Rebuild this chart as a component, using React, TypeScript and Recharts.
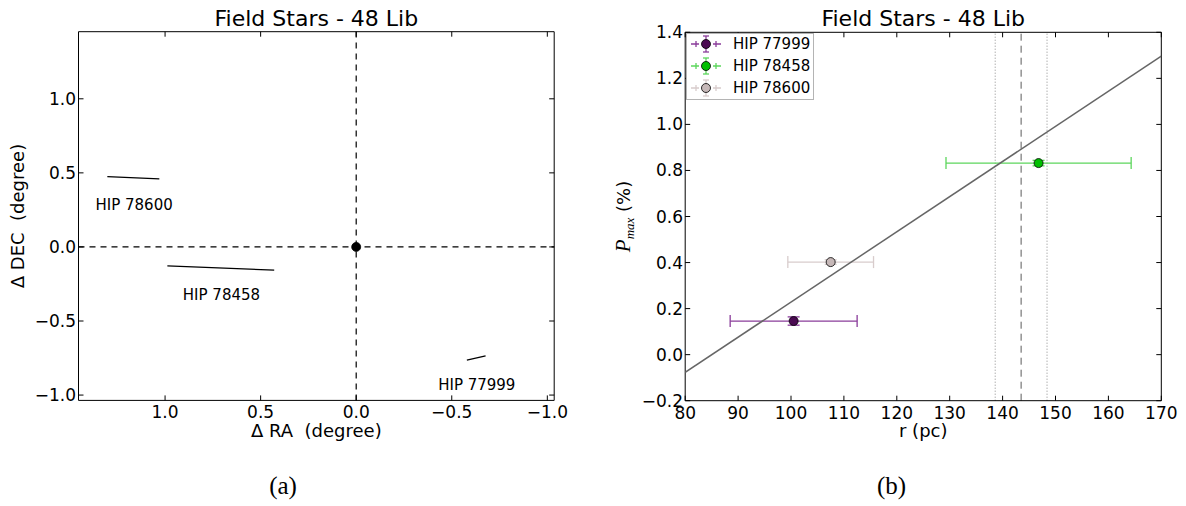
import React from "react";
import { ScatterChart, Scatter, XAxis, YAxis, ReferenceLine, ErrorBar } from "recharts";

// (a) positions relative to 48 Lib, polarization vectors
const vecNames = ["HIP 78600", "HIP 78458", "HIP 77999"];
const vecRaStart = [1.302, 0.988, -0.579];
const vecRaEnd = [1.03, 0.429, -0.677];
const vecDecStart = [0.475, -0.128, -0.764];
const vecDecEnd = [0.459, -0.157, -0.736];
const nameRa = [1.162, 0.705, -0.631];
const nameDec = [0.284, -0.324, -0.932];
const raTicks = [1.0, 0.5, 0.0, -0.5, -1.0];
const decTicks = [-1.0, -0.5, 0.0, 0.5, 1.0];
const raDomain = [-1.036, 1.453];
const decDomain = [-1.036, 1.453];

// (b) Pmax vs distance
const starNames = ["HIP 77999", "HIP 78458", "HIP 78600"];
const starDist = [100.5, 146.8, 107.5];
const starDistErr = [12.0, 17.5, 8.1];
const starPmax = [0.146, 0.832, 0.402];
const starPmaxErr = [0.018, 0.012, 0.01];
const markerColors = ["#4b0a52", "#00c000", "#c6b8b8"];
const errColors = ["#8a3c9a", "#5cd65c", "#d8cccc"];
const fitDist = [80, 170];
const fitPmax = [-0.077, 1.297];
const clusterDist = 143.5;
const clusterDistErr = 4.9;
const distTicks = [80, 90, 100, 110, 120, 130, 140, 150, 160, 170];
const pmaxTicks = [-0.2, 0.0, 0.2, 0.4, 0.6, 0.8, 1.0, 1.2, 1.4];

const FONT = "DejaVu Sans";
const fmt = (v: number) => {
  const s = Math.abs(v).toFixed(1);
  return v < -1e-9 ? "\u2212" + s : s;
};
const blank = () => "";
const noShape = () => <g />;
const tickStyle = { fill: "#000", fontSize: 17, fontFamily: FONT };

const vectors = vecNames.map((n, i) => [
  { x: vecRaStart[i], y: vecDecStart[i] },
  { x: vecRaEnd[i], y: vecDecEnd[i] },
]);
const nameLabels = vecNames.map((n, i) => ({ x: nameRa[i], y: nameDec[i], name: n }));
const fitLine = fitDist.map((d, i) => ({ x: d, y: fitPmax[i] }));
const stars = starNames.map((n, i) => ({
  x: starDist[i],
  y: starPmax[i],
  xe: starDistErr[i],
  ye: starPmaxErr[i],
  name: n,
}));

// top axis is 1px tall, so its viewBox bottom is the plot top
const titleLabel = (props: any) => {
  const { x, y, width, height } = props.viewBox;
  return (
    <text x={x + width / 2} y={y + height - 6} textAnchor="middle" fontSize={22} fontFamily={FONT} fill="#000">
      Field Stars - 48 Lib
    </text>
  );
};

const xTitle = (text: string) => (props: any) => {
  const { x, y, width } = props.viewBox;
  return (
    <text x={x + width / 2} y={y + 36.6} textAnchor="middle" fontSize={18} fontFamily={FONT} fill="#000" style={{ whiteSpace: "pre" }}>
      {text}
    </text>
  );
};

const decTitle = (props: any) => {
  const { x, y, height } = props.viewBox;
  const tx = x + 15.5;
  const ty = y + height / 2;
  return (
    <text x={tx} y={ty} transform={`rotate(-90, ${tx}, ${ty})`} textAnchor="middle" fontSize={18} fontFamily={FONT} fill="#000" style={{ whiteSpace: "pre" }}>
      {"\u0394 DEC  (degree)"}
    </text>
  );
};

const pmaxTitle = (props: any) => {
  const { x, y, height } = props.viewBox;
  const tx = x + 14.8;
  const ty = y + height / 2;
  return (
    <text x={tx} y={ty} transform={`rotate(-90, ${tx}, ${ty})`} textAnchor="middle" fontSize={18} fontFamily={FONT} fill="#000">
      <tspan fontFamily="Liberation Serif" fontStyle="italic" fontSize={21}>P</tspan>
      <tspan fontFamily="Liberation Serif" fontStyle="italic" fontSize={13} dy={4}>max</tspan>
      <tspan dy={-4}>{" (%)"}</tspan>
    </text>
  );
};

const nameShape = (p: any) => (
  <text x={p.cx} y={p.cy} dy="0.35em" textAnchor="middle" fontSize={15} fontFamily={FONT} fill="#000">
    {p.payload.name}
  </text>
);

const starShape = (color: string) => (p: any) => (
  <circle cx={p.cx} cy={p.cy} r={4.5} fill={color} stroke="#000" strokeWidth={0.8} />
);

const PositionChart = () => (
  <ScatterChart width={600} height={506} margin={{ top: 30.7, right: 44.8, bottom: 65.6, left: 8.5 }}>
    <XAxis
      dataKey="x"
      type="number"
      domain={raDomain}
      reversed
      allowDataOverflow
      ticks={raTicks}
      interval={0}
      tickFormatter={fmt}
      tickSize={-5}
      tickMargin={11}
      height={40}
      stroke="#000"
      tick={tickStyle}
      label={{ content: xTitle("\u0394 RA  (degree)") }}
    />
    <XAxis
      xAxisId="top"
      orientation="top"
      dataKey="x"
      type="number"
      domain={raDomain}
      reversed
      allowDataOverflow
      ticks={raTicks}
      interval={0}
      tickFormatter={blank}
      tickSize={-5}
      height={1}
      stroke="#000"
      label={{ content: titleLabel }}
    />
    <YAxis
      dataKey="y"
      type="number"
      domain={decDomain}
      allowDataOverflow
      ticks={decTicks}
      interval={0}
      tickFormatter={fmt}
      tickSize={-5}
      tickMargin={7.5}
      width={70}
      stroke="#000"
      tick={tickStyle}
      label={{ content: decTitle }}
    />
    <YAxis
      yAxisId="right"
      orientation="right"
      dataKey="y"
      type="number"
      domain={decDomain}
      allowDataOverflow
      ticks={decTicks}
      interval={0}
      tickFormatter={blank}
      tickSize={-5}
      width={1}
      stroke="#000"
    />
    <ReferenceLine x={0} stroke="#000" strokeWidth={1.2} strokeDasharray="6 5" />
    <ReferenceLine y={0} stroke="#000" strokeWidth={1.2} strokeDasharray="6 5" />
    {vectors.map((v, i) => (
      <Scatter
        key={vecNames[i]}
        data={v}
        line={{ stroke: "#000", strokeWidth: 1.2 }}
        shape={noShape}
        isAnimationActive={false}
      />
    ))}
    <Scatter data={nameLabels} shape={nameShape} isAnimationActive={false} />
    <Scatter data={[{ x: 0, y: 0 }]} shape={starShape("#000")} isAnimationActive={false} />
  </ScatterChart>
);

const DistanceChart = () => (
  <ScatterChart width={586} height={506} margin={{ top: 31.3, right: 23.7, bottom: 65.3, left: 15.2 }}>
    <XAxis
      dataKey="x"
      type="number"
      domain={[80, 170]}
      allowDataOverflow
      ticks={distTicks}
      interval={0}
      tickSize={-5}
      tickMargin={11}
      height={40}
      stroke="#000"
      tick={tickStyle}
      label={{ content: xTitle("r (pc)") }}
    />
    <XAxis
      xAxisId="top"
      orientation="top"
      dataKey="x"
      type="number"
      domain={[80, 170]}
      allowDataOverflow
      ticks={distTicks}
      interval={0}
      tickFormatter={blank}
      tickSize={-5}
      height={1}
      stroke="#000"
      label={{ content: titleLabel }}
    />
    <YAxis
      dataKey="y"
      type="number"
      domain={[-0.2, 1.4]}
      allowDataOverflow
      ticks={pmaxTicks}
      interval={0}
      tickFormatter={fmt}
      tickSize={-5}
      tickMargin={7.2}
      width={70}
      stroke="#000"
      tick={tickStyle}
      label={{ content: pmaxTitle }}
    />
    <YAxis
      yAxisId="right"
      orientation="right"
      dataKey="y"
      type="number"
      domain={[-0.2, 1.4]}
      allowDataOverflow
      ticks={pmaxTicks}
      interval={0}
      tickFormatter={blank}
      tickSize={-5}
      width={1}
      stroke="#000"
    />
    <ReferenceLine x={clusterDist - clusterDistErr} stroke="#8c8c8c" strokeDasharray="1 2" />
    <ReferenceLine x={clusterDist} stroke="#5a5a5a" strokeDasharray="7 5" />
    <ReferenceLine x={clusterDist + clusterDistErr} stroke="#8c8c8c" strokeDasharray="1 2" />
    <Scatter data={fitLine} line={{ stroke: "#666", strokeWidth: 1.5 }} shape={noShape} isAnimationActive={false} />
    {stars.map((s, i) => (
      <Scatter key={s.name} data={[s]} shape={starShape(markerColors[i])} isAnimationActive={false}>
        <ErrorBar dataKey="xe" direction="x" width={6} stroke={errColors[i]} strokeWidth={1.3} />
        <ErrorBar dataKey="ye" direction="y" width={6} stroke={errColors[i]} strokeWidth={1.3} />
      </Scatter>
    ))}
  </ScatterChart>
);

const LegendBox = () => (
  <div
    style={{
      position: "absolute",
      left: 86,
      top: 32.7,
      width: 128,
      height: 67,
      border: "1px solid #b4b4b4",
      background: "#fff",
      boxSizing: "border-box",
    }}
  >
    {starNames.map((n, i) => (
      <div
        key={n}
        style={{ position: "absolute", left: -1, top: -0.4 + i * 22, height: 22, display: "flex", alignItems: "center" }}
      >
        <svg width={40} height={22}>
          <line x1={5} x2={35} y1={11} y2={11} stroke={errColors[i]} strokeWidth={1.3} strokeDasharray="8 3" />
          <line x1={10} x2={10} y1={8} y2={14} stroke={errColors[i]} strokeWidth={1.3} />
          <line x1={30} x2={30} y1={8} y2={14} stroke={errColors[i]} strokeWidth={1.3} />
          <line x1={20} x2={20} y1={3} y2={19} stroke={errColors[i]} strokeWidth={1.3} />
          <line x1={17} x2={23} y1={3} y2={3} stroke={errColors[i]} strokeWidth={1.3} />
          <line x1={17} x2={23} y1={19} y2={19} stroke={errColors[i]} strokeWidth={1.3} />
          <circle cx={20} cy={11} r={4.5} fill={markerColors[i]} stroke="#000" strokeWidth={0.8} />
        </svg>
        <span style={{ fontSize: 15, fontFamily: FONT, marginLeft: 7, lineHeight: "22px" }}>{n}</span>
      </div>
    ))}
  </div>
);

const captionStyle = (cx: number): React.CSSProperties => ({
  position: "absolute",
  left: cx - 30,
  top: 471,
  width: 60,
  textAlign: "center",
  fontFamily: "Liberation Serif",
  fontSize: 25,
  lineHeight: "30px",
});

export default function App() {
  return (
    <div style={{ position: "absolute", left: 0, top: 0, width: 1186, height: 506, background: "#fff" }}>
      <div style={{ position: "absolute", left: 0, top: 0 }}>
        <PositionChart />
      </div>
      <div style={{ position: "absolute", left: 600, top: 0 }}>
        <DistanceChart />
        <LegendBox />
      </div>
      <div style={captionStyle(283)}>(a)</div>
      <div style={captionStyle(891.5)}>(b)</div>
    </div>
  );
}
